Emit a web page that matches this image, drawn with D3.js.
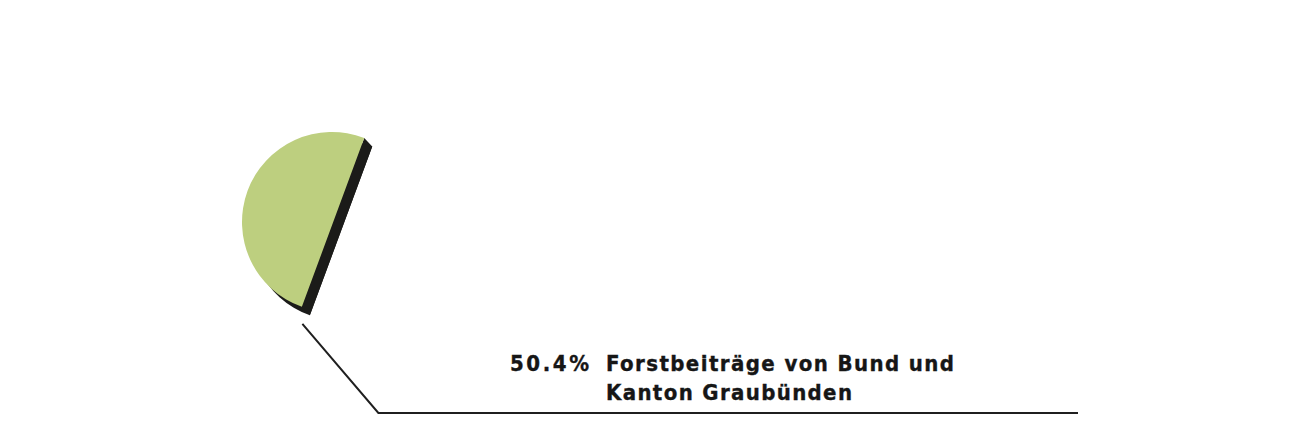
<!DOCTYPE html>
<html>
<head>
<meta charset="utf-8">
<script src="https://cdn.jsdelivr.net/npm/d3@7/dist/d3.min.js"></script>
<style>
  html, body { margin: 0; padding: 0; background: #ffffff; }
  svg { display: block; }
  .lbl { font-family: "DejaVu Sans Condensed", "DejaVu Sans", sans-serif; font-stretch: condensed; font-weight: bold; font-size: 22px; fill: #161616; stroke: #161616; stroke-width: 0.35px; }
</style>
</head>
<body>
<svg id="chart" width="1310" height="425"></svg>
<script>
// ---- data ----
const categories = ["Übrige", "Forstbeiträge von Bund und Kanton Graubünden"];
const values = [49.6, 50.4];
const visible = [false, true];
const valueLabels = ["49.6%", "50.4%"];
const labelLines = [[], ["Forstbeiträge von Bund und", "Kanton Graubünden"]];

// ---- layout ----
const cx = 332, cy = 222, R = 90;
const startDeg = 21;
const shadow = { dx: 8, dy: 8.5 };
const green = "#bdcf7f", dark = "#1b1b19", lineColor = "#1f1f1f";

const svg = d3.select("#chart");
const pie = d3.pie().sort(null).value(d => d)
  .startAngle(startDeg * Math.PI / 180)
  .endAngle(startDeg * Math.PI / 180 + 2 * Math.PI);
const arcs = pie(values);
const pt = (a, r) => [r * Math.sin(a), -r * Math.cos(a)];
const segment = (a) => {
  const p = d3.path();
  p.arc(0, 0, R, a.startAngle - Math.PI / 2, a.endAngle - Math.PI / 2);
  p.closePath();
  return p.toString();
};

const g = svg.append("g").attr("transform", `translate(${cx},${cy})`);

arcs.forEach((a, i) => {
  if (!visible[i]) return;
  const s = pt(a.startAngle, R), e = pt(a.endAngle, R);
  // extrusion / shadow
  g.append("path")
    .attr("d", segment(a))
    .attr("transform", `translate(${shadow.dx},${shadow.dy})`)
    .attr("fill", dark);
  g.append("path")
    .attr("d", d3.line()([s, e, [e[0] + shadow.dx, e[1] + shadow.dy], [s[0] + shadow.dx, s[1] + shadow.dy]]) + "Z")
    .attr("fill", dark);
  g.append("path").attr("d", segment(a)).attr("fill", green);

  // leader line from slice start corner
  const p0 = [cx + s[0] + 0.5, cy + s[1] + 17];
  const p1 = [p0[0] + 76, 413];
  const p2 = [1078, 413];
  svg.append("path")
    .attr("d", d3.line()([p0, p1, p2]))
    .attr("fill", "none")
    .attr("stroke", lineColor)
    .attr("stroke-width", 2);

  // labels
  svg.append("text").attr("class", "lbl")
    .attr("x", 510).attr("y", 371)
    .attr("textLength", 79).attr("lengthAdjust", "spacing")
    .text(valueLabels[i]);
  const widths = [348, 246];
  labelLines[i].forEach((t, k) => {
    svg.append("text").attr("class", "lbl")
      .attr("x", 606).attr("y", 371 + k * 29)
      .attr("textLength", widths[k]).attr("lengthAdjust", "spacing")
      .text(t);
  });
});
</script>
</body>
</html>
